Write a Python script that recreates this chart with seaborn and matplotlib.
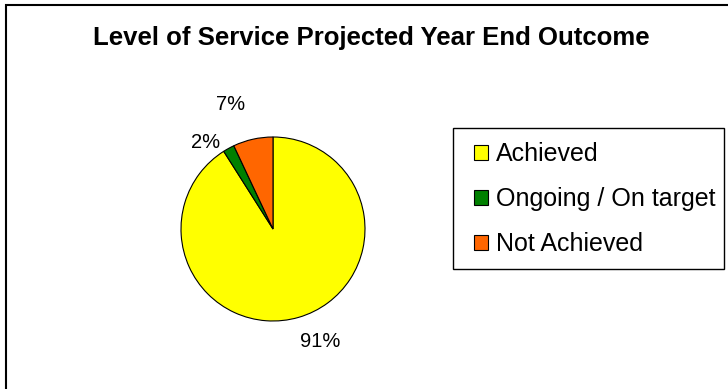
import matplotlib
matplotlib.use("Agg")
import matplotlib.pyplot as plt
import seaborn as sns
import numpy as np
from matplotlib.patches import Rectangle

# ---- data ----
categories = ["Achieved", "Ongoing / On target", "Not Achieved"]
values = [91, 2, 7]
pct_labels = ["91%", "2%", "7%"]
title = "Level of Service Projected Year End Outcome"

# ---- style ----
colors = ["#FFFF00", "#008000", "#FF6600"]
label_radius = [1.33, 1.19, 1.43]
label_angle_offset = [6.5, 9.0, 6.0]

sns.set_theme(style="white")
plt.rcParams["font.family"] = ["Liberation Sans", "DejaVu Sans"]
plt.rcParams["text.color"] = "black"

W, H = 728, 389
fig = plt.figure(figsize=(W / 100, H / 100), dpi=100)
fig.patch.set_facecolor("white")

# outer chart border (cropped at right/bottom like the reference)
fig.patches.append(Rectangle((5.5 / W, -0.05), 1.2, 1 - 5.5 / H + 0.05,
                             transform=fig.transFigure, fill=False,
                             edgecolor="black", linewidth=1.5))

# title
fig.text(371 / W, 1 - 45 / H, title, ha="center", va="baseline",
         fontsize=18.5, fontweight="bold", color="black")

# pie
cx, cy, r = 273, 229, 92
ax = fig.add_axes([(cx - r) / W, (H - cy - r) / H, 2 * r / W, 2 * r / H])
wedges, _ = ax.pie(values, colors=colors, startangle=90, counterclock=False,
                   radius=1, wedgeprops=dict(edgecolor="black", linewidth=0.8))
ax.set_xlim(-1, 1)
ax.set_ylim(-1, 1)
ax.set_aspect("equal")
ax.axis("off")

for w, lab, rr, off in zip(wedges, pct_labels, label_radius, label_angle_offset):
    mid = np.deg2rad((w.theta1 + w.theta2) / 2 + off)
    ax.text(rr * np.cos(mid), rr * np.sin(mid), lab, ha="center", va="center",
            fontsize=14.5, color="black", clip_on=False)

# legend frame
lx0, ly0, lx1, ly1 = 453, 128, 724, 269
fig.patches.append(Rectangle((lx0 / W, 1 - ly1 / H), (lx1 - lx0) / W, (ly1 - ly0) / H,
                             transform=fig.transFigure, fill=False,
                             edgecolor="black", linewidth=1.0))
leg = fig.legend(wedges, categories, loc="upper left",
                 bbox_to_anchor=(474 / W, 1 - 142 / H), frameon=False,
                 fontsize=18, borderpad=0, borderaxespad=0,
                 handlelength=0.56, handleheight=0.56, handletextpad=0.32,
                 labelspacing=0.84)
for t in leg.get_texts():
    t.set_color("black")
for h in leg.legend_handles:
    h.set_linewidth(0.8)
    h.set_edgecolor("black")

fig.savefig("out.png", dpi=100, facecolor="white")
